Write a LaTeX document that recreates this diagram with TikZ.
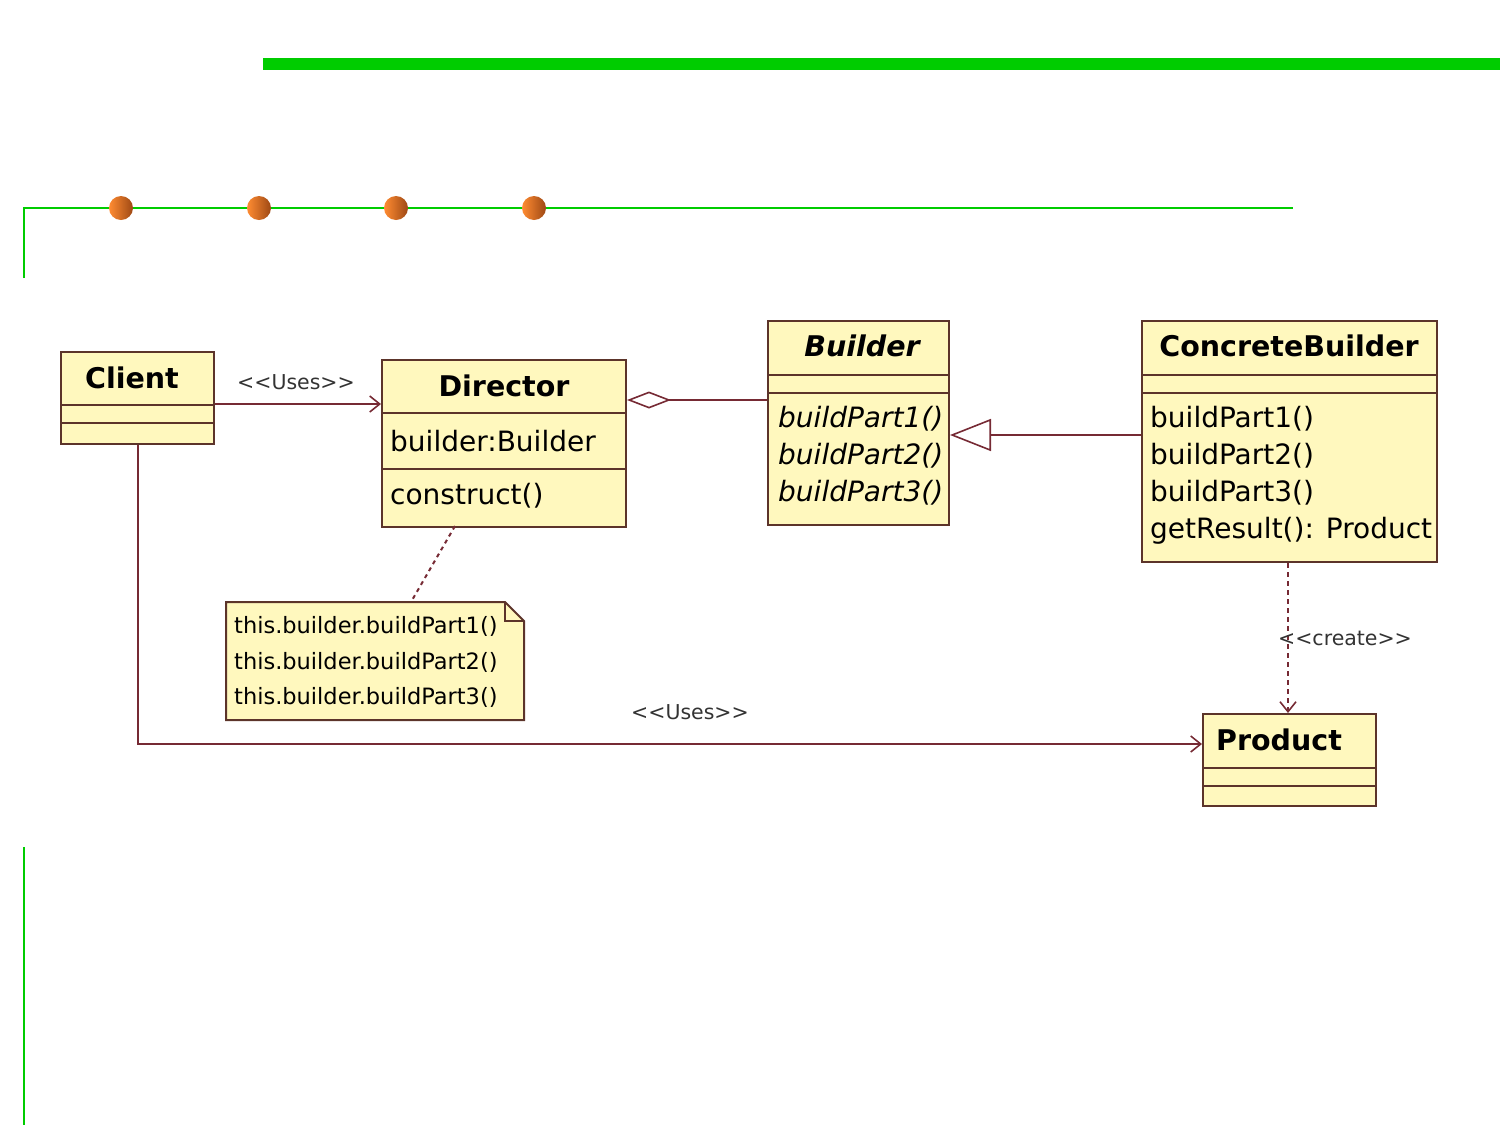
\documentclass[tikz,border=0pt]{standalone}
\usepackage{fontspec}
\setmainfont{DejaVu Sans}
\usetikzlibrary{arrows.meta}
\definecolor{umlfill}{RGB}{255,248,190}
\definecolor{umlborder}{RGB}{92,52,42}
\definecolor{umlline}{RGB}{118,42,52}
\definecolor{slidegreen}{RGB}{0,204,0}
\definecolor{dotlight}{RGB}{255,140,50}
\definecolor{dotdark}{RGB}{158,72,20}
\begin{document}
\begin{tikzpicture}[x=1pt,y=-1pt,
  classbox/.style={draw=umlborder, fill=umlfill, line width=2pt, rectangle, inner sep=0pt, anchor=north west},
  sepline/.style={draw=umlborder, line width=2pt},
  conn/.style={draw=umlline, line width=2pt},
  dashconn/.style={draw=umlline, line width=2pt, dash pattern=on 5pt off 4pt},
  opentip/.style={-{Straight Barb[length=10pt,width=16pt,line width=1.6pt]}},
  titletext/.style={inner sep=0pt, font=\fontsize{28.5}{32}\selectfont\bfseries},
  itemtext/.style={inner sep=0pt, anchor=west, font=\fontsize{28}{32}\selectfont},
  labeltext/.style={inner sep=0pt, font=\fontsize{20.5}{24}\selectfont, text=black!80},
  notetext/.style={inner sep=0pt, anchor=west, font=\fontsize{22.5}{26}\selectfont},
  dot/.style={circle, inner sep=0pt, minimum size=24pt, left color=dotlight, right color=dotdark},
  greenline/.style={draw=slidegreen, line width=2pt}
]
\useasboundingbox (0,0) rectangle (1500,1125);

% slide decoration
\fill[slidegreen] (263,58) rectangle (1500,70);
\draw[greenline] (24,278) -- (24,208) -- (1293,208);
\draw[greenline] (24,847) -- (24,1125);
\node[dot] (d1) at (121,208) {};
\node[dot] (d2) at (259,208) {};
\node[dot] (d3) at (396,208) {};
\node[dot] (d4) at (534,208) {};

% Client
\node[classbox, minimum width=153pt, minimum height=92pt] (client) at (60,351) {};
\draw[sepline] (60,405) -- (213,405);
\draw[sepline] (60,423) -- (213,423);
\node[titletext] (clientT) at (132,378) {Client};

% Director
\node[classbox, minimum width=244pt, minimum height=167pt] (director) at (381,359) {};
\draw[sepline] (381,413) -- (625,413);
\draw[sepline] (381,469) -- (625,469);
\node[titletext] (directorT) at (504,386) {Director};
\node[itemtext] (dirA) at (390,441) {builder:Builder};
\node[itemtext] (dirM) at (390,496) {construct()};

% Builder
\node[classbox, minimum width=181pt, minimum height=204pt] (builder) at (767,320) {};
\draw[sepline] (767,375) -- (948,375);
\draw[sepline] (767,393) -- (948,393);
\node[titletext, font=\fontsize{28.5}{32}\selectfont\bfseries\itshape] (builderT) at (862,346) {Builder};
\node[itemtext, font=\fontsize{28}{32}\selectfont\itshape] (bm1) at (778,419) {buildPart1()};
\node[itemtext, font=\fontsize{28}{32}\selectfont\itshape] (bm2) at (778,456) {buildPart2()};
\node[itemtext, font=\fontsize{28}{32}\selectfont\itshape] (bm3) at (778,493) {buildPart3()};

% ConcreteBuilder
\node[classbox, minimum width=295pt, minimum height=241pt] (concrete) at (1141,320) {};
\draw[sepline] (1141,375) -- (1436,375);
\draw[sepline] (1141,393) -- (1436,393);
\node[titletext] (concreteT) at (1289,346) {ConcreteBuilder};
\node[itemtext] (cm1) at (1150,419) {buildPart1()};
\node[itemtext] (cm2) at (1150,456) {buildPart2()};
\node[itemtext] (cm3) at (1150,493) {buildPart3()};
\node[itemtext] (cm4) at (1150,531) {getResult(): Product};

% Product
\node[classbox, minimum width=173pt, minimum height=92pt] (product) at (1202,713) {};
\draw[sepline] (1202,768) -- (1375,768);
\draw[sepline] (1202,786) -- (1375,786);
\node[titletext] (productT) at (1279,740) {Product};

% Note
\filldraw[draw=umlborder, fill=umlfill, line width=2pt, line join=miter]
  (226,602) -- (505,602) -- (524,621) -- (524,720) -- (226,720) -- cycle;
\draw[sepline] (505,602) -- (505,621) -- (524,621);
\coordinate (notetop) at (411,602);
\node[notetext] (n1) at (234,626) {this.builder.buildPart1()};
\node[notetext] (n2) at (234,662) {this.builder.buildPart2()};
\node[notetext] (n3) at (234,697) {this.builder.buildPart3()};

% connectors
\coordinate (dirbot) at (455,526);
\draw[dashconn, dash pattern=on 4pt off 4pt] (dirbot) -- (notetop);

\draw[conn, opentip] (client.east |- 0,404) -- (director.west |- 0,404);
\node[labeltext] (uses1) at (296,382) {<{}<Uses>{}>};

\draw[conn, {Diamond[open,length=44pt,width=17pt,line width=1.6pt]}-] (director.east |- 0,400) -- (builder.west |- 0,400);

\draw[conn, -{Triangle[open,length=41pt,width=32pt,line width=1.6pt]}] (concrete.west |- 0,435) -- (builder.east |- 0,435);

\draw[dashconn, opentip] (concrete.south -| 1288,0) -- (product.north -| 1288,0);
\node[labeltext] (create) at (1345,638) {<{}<create>{}>};

\draw[conn, opentip] (client.south -| 138,0) -- (138,744) -- (product.west |- 0,744);
\node[labeltext] (uses2) at (690,712) {<{}<Uses>{}>};
\end{tikzpicture}
\end{document}
